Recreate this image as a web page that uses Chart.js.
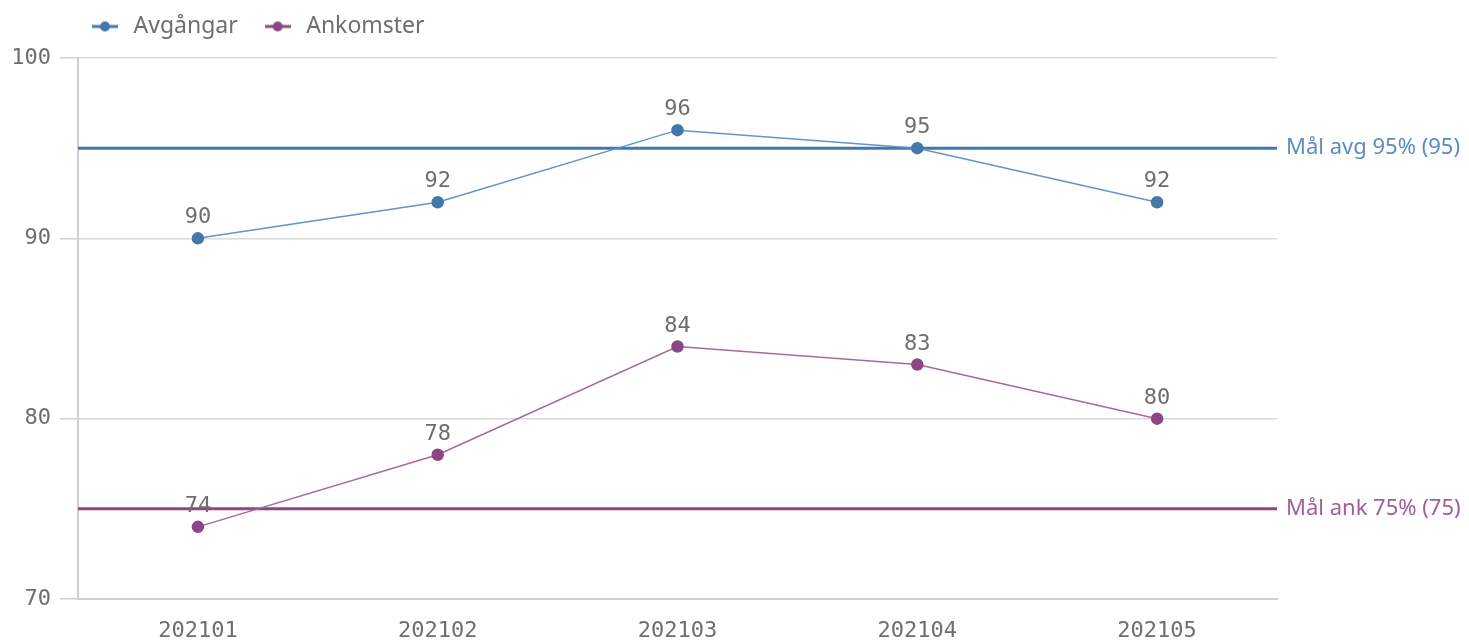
<!DOCTYPE html>
<html>
<head>
<meta charset="utf-8">
<script src="https://cdn.jsdelivr.net/npm/chart.js@4/dist/chart.umd.min.js"></script>
<style>
  html, body { margin: 0; padding: 0; background: #fff; }
  #wrap { width: 1469px; height: 642px; }
</style>
</head>
<body>
<div id="wrap"><canvas id="chart"></canvas></div>
<script>
// data
const months = ["202101", "202102", "202103", "202104", "202105"];
const avgangar = [90, 92, 96, 95, 92];
const ankomster = [74, 78, 84, 83, 80];
const refValues = [95, 75];
const refLabels = ["Mål avg 95% (95)", "Mål ank 75% (75)"];
const yTicks = [70, 80, 90, 100];

const BLUE = "#4477aa";
const PURPLE = "#8e4585";
const BLUE_LINE = "#6593c6";
const PURPLE_LINE = "#a56a9c";
const refColors = [BLUE, PURPLE];
const refTextColors = ["#5b8cc2", "#a05f97"];
const labelFont = "DejaVu Sans Mono";
const textGrey = "#6e6e6e";

function legendMarker(color) {
    const c = document.createElement("canvas");
    c.width = 26; c.height = 12;
    const ctx = c.getContext("2d");
    ctx.strokeStyle = color;
    ctx.lineWidth = 3;
    ctx.beginPath(); ctx.moveTo(0, 6); ctx.lineTo(26, 6); ctx.stroke();
    ctx.fillStyle = color;
    ctx.beginPath(); ctx.arc(13, 6, 5, 0, Math.PI * 2); ctx.fill();
    return c;
}

// reference lines behind the series, labels on the right
const refLinePlugin = {
    id: "refLines",
    beforeDatasetsDraw(chart) {
        const { ctx, chartArea, scales } = chart;
        refValues.forEach((v, i) => {
            const y = scales.y.getPixelForValue(v);
            ctx.save();
            ctx.strokeStyle = refColors[i];
            ctx.lineWidth = 3;
            ctx.beginPath();
            ctx.moveTo(chartArea.left, y);
            ctx.lineTo(chartArea.right, y);
            ctx.stroke();
            ctx.fillStyle = refTextColors[i];
            ctx.font = "22px 'Noto Sans'";
            ctx.textBaseline = "middle";
            ctx.fillText(refLabels[i], chartArea.right + 9, y);
            ctx.restore();
        });
    }
};

// value labels above points
const valueLabelPlugin = {
    id: "valueLabels",
    afterDatasetsDraw(chart) {
        const { ctx } = chart;
        chart.data.datasets.forEach((ds, di) => {
            const meta = chart.getDatasetMeta(di);
            meta.data.forEach((pt, i) => {
                ctx.save();
                ctx.fillStyle = textGrey;
                ctx.font = "22px '" + labelFont + "'";
                ctx.textAlign = "center";
                ctx.textBaseline = "alphabetic";
                ctx.fillText(String(ds.data[i]), pt.x, pt.y - 15);
                ctx.restore();
            });
        });
    }
};

const legendShift = {
    id: "legendShift",
    afterLayout(chart) {
        chart.legend.left += 65;
        chart.legend.top -= 10;
    }
};

new Chart(document.getElementById("chart"), {
    type: "line",
    data: {
        labels: months,
        datasets: [
            {
                label: "Avgångar",
                data: avgangar,
                borderColor: BLUE_LINE,
                backgroundColor: BLUE,
                pointBorderColor: BLUE,
                borderWidth: 1.5,
                pointRadius: 5.5,
                pointHoverRadius: 5.5,
                tension: 0
            },
            {
                label: "Ankomster",
                data: ankomster,
                borderColor: PURPLE_LINE,
                backgroundColor: PURPLE,
                pointBorderColor: PURPLE,
                borderWidth: 1.5,
                pointRadius: 5.5,
                pointHoverRadius: 5.5,
                tension: 0
            }
        ]
    },
    options: {
        responsive: true,
        maintainAspectRatio: false,
        animation: false,
        layout: { padding: { left: 0, right: 192, top: 2, bottom: 0 } },
        plugins: {
            tooltip: { enabled: false },
            legend: {
                position: "top",
                align: "start",
                labels: {
                    usePointStyle: true,
                    pointStyleWidth: 34,
                    color: textGrey,
                    font: { family: "Noto Sans", size: 23 },
                    padding: 23,
                    generateLabels(chart) {
                        const cols = [BLUE, PURPLE];
                        return chart.data.datasets.map((ds, i) => ({
                            text: ds.label,
                            fillStyle: cols[i],
                            strokeStyle: cols[i],
                            pointStyle: legendMarker(cols[i]),
                            fontColor: textGrey,
                            lineWidth: 0,
                            hidden: false,
                            datasetIndex: i
                        }));
                    }
                }
            }
        },
        scales: {
            x: {
                offset: true,
                grid: { display: false, drawTicks: false },
                border: { color: "#d0d0d0", width: 2 },
                ticks: {
                    color: textGrey,
                    font: { family: labelFont, size: 22 },
                    padding: 19,
                    maxRotation: 0
                },
                afterFit(scale) { scale.height = 43; }
            },
            y: {
                min: 70,
                max: 100,
                afterBuildTicks(scale) { scale.ticks = yTicks.map(v => ({ value: v })); },
                grid: { color: "#d9d9d9", lineWidth: 1.5, tickLength: 18, tickColor: "#d0d0d0" },
                border: { color: "#d0d0d0", width: 2 },
                ticks: {
                    color: textGrey,
                    font: { family: labelFont, size: 22 },
                    padding: 9
                },
                afterFit(scale) { scale.width = 78; }
            }
        }
    },
    plugins: [refLinePlugin, valueLabelPlugin, legendShift]
});
</script>
</body>
</html>
